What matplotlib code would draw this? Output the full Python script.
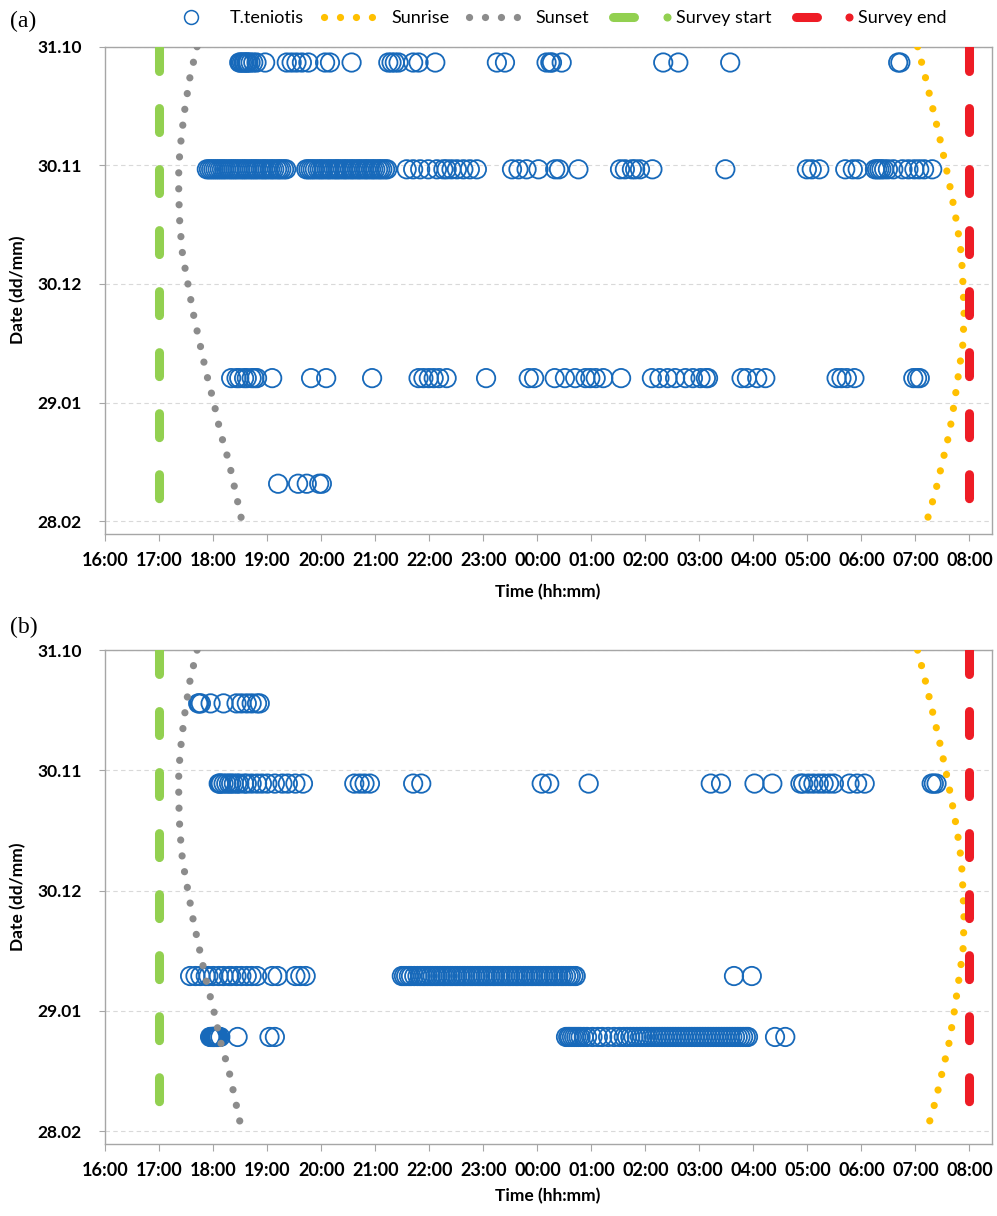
# Bat activity vs. sunset / sunrise, two survey sites
import matplotlib
matplotlib.use('Agg')
import matplotlib.pyplot as plt
from matplotlib.lines import Line2D

plt.rcParams['font.family'] = ['Lato', 'DejaVu Sans']

BLUE = '#1769BA'
GOLD = '#FFC000'
GREY = '#8C8C8C'
GREEN = '#92D050'
RED = '#EE1C25'
FRAME = '#A6A6A6'

# x axis: hours from 16:00 to 08:00 next morning (hours > 24 are after midnight)
hour_ticks = list(range(16, 33))
hour_labels = ['16:00', '17:00', '18:00', '19:00', '20:00', '21:00', '22:00', '23:00',
               '00:00', '01:00', '02:00', '03:00', '04:00', '05:00', '06:00', '07:00', '08:00']

# y axis: days after 31.10
date_ticks = [0, 30, 60, 90, 120]
date_labels = ['31.10', '30.11', '30.12', '29.01', '28.02']

# sunset / sunrise
sun_days = [0, 7.5, 15, 22.5, 30, 37.5, 45, 52.5, 60, 67.5, 75, 82.5, 90, 97.5, 105, 112.5, 120]
sunset_hours = [17.70, 17.57, 17.48, 17.41, 17.36, 17.36, 17.38, 17.43, 17.53,
                17.63, 17.75, 17.87, 18.01, 18.13, 18.29, 18.41, 18.53]
sunrise_hours = [31.04, 31.18, 31.31, 31.44, 31.56, 31.67, 31.77, 31.85, 31.88,
                 31.90, 31.88, 31.80, 31.72, 31.63, 31.50, 31.37, 31.21]

survey_start = 17.0
survey_end = 32.0

# panel (a) detections
a_days = [4, 31, 83.8, 110.5]
a1_times = [18.48, 18.50, 18.53, 18.56, 18.58, 18.61, 18.63, 18.65, 18.69, 18.74, 18.80, 18.96,
            19.36, 19.45, 19.54, 19.64, 19.76, 20.07, 20.16, 20.56, 21.24, 21.30, 21.36, 21.43,
            21.70, 21.80, 22.11, 23.25, 23.40, 24.17, 24.24, 24.27, 24.45, 26.33, 26.61, 27.57,
            30.68, 30.72]
a2_times = [17.88, 17.92, 17.96, 18.00, 18.04, 18.08, 18.12, 18.16, 18.20, 18.24, 18.29, 18.33,
            18.37, 18.41, 18.45, 18.50, 18.54, 18.58, 18.62, 18.67, 18.71, 18.75, 18.79, 18.83,
            18.88, 18.92, 18.96, 19.00, 19.05, 19.09, 19.13, 19.18, 19.22, 19.26, 19.31, 19.35,
            19.72, 19.76, 19.80, 19.84, 19.88, 19.93, 19.97, 20.01, 20.05, 20.10, 20.14, 20.18,
            20.23, 20.27, 20.31, 20.35, 20.40, 20.44, 20.48, 20.53, 20.57, 20.61, 20.66, 20.70,
            20.74, 20.79, 20.83, 20.87, 20.92, 20.96, 21.00, 21.05, 21.09, 21.13, 21.18, 21.22,
            21.58, 21.70, 21.83, 21.98, 22.14, 22.26, 22.32, 22.41, 22.51, 22.63, 22.75, 22.88,
            23.53, 23.65, 23.80, 24.02, 24.33, 24.40, 24.76, 25.53, 25.62, 25.75, 25.81, 25.90,
            26.13, 27.48, 28.99, 29.08, 29.22, 29.70, 29.84, 29.93, 30.25, 30.29, 30.33, 30.37,
            30.42, 30.49, 30.59, 30.76, 30.87, 30.98, 31.07, 31.16, 31.31]
a3_times = [18.33, 18.43, 18.48, 18.57, 18.62, 18.71, 18.76, 18.81, 19.09, 19.81, 20.09, 20.94,
            21.80, 21.89, 21.99, 22.08, 22.18, 22.32, 23.05, 23.84, 23.94, 24.32, 24.51, 24.70,
            24.89, 24.98, 25.08, 25.22, 25.55, 26.12, 26.26, 26.41, 26.55, 26.74, 26.88, 27.02,
            27.12, 27.16, 27.78, 27.88, 28.07, 28.22, 29.54, 29.63, 29.73, 29.87, 30.96, 31.03,
            31.08]
a4_times = [19.20, 19.57, 19.73, 19.96, 20.01]

# panel (b) detections
b_days = [13.3, 33.3, 81.3, 96.5]
b1_times = [17.72, 17.74, 17.77, 17.95, 18.19, 18.43, 18.52, 18.62, 18.71, 18.81, 18.86]
b2_times = [18.10, 18.12, 18.14, 18.19, 18.24, 18.29, 18.33, 18.38, 18.44, 18.48, 18.57, 18.62,
            18.71, 18.81, 18.90, 19.00, 19.14, 19.28, 19.38, 19.52, 19.66, 20.61, 20.71, 20.80,
            20.90, 21.70, 21.85, 24.08, 24.22, 24.95, 27.21, 27.40, 28.02, 28.35, 28.87, 28.92,
            29.02, 29.11, 29.21, 29.30, 29.40, 29.49, 29.78, 29.92, 30.06, 31.30, 31.34, 31.39]
b3_times = [17.57, 17.67, 17.76, 17.86, 17.91, 18.00, 18.10, 18.19, 18.29, 18.33, 18.43, 18.52,
            18.62, 18.71, 18.81, 19.09, 19.19, 19.52, 19.61, 19.71,
            21.49, 21.53, 21.57, 21.62, 21.66, 21.72, 21.78, 21.83, 21.88, 21.92, 21.97, 22.02,
            22.06, 22.11, 22.15, 22.20, 22.25, 22.29, 22.34, 22.39, 22.43, 22.48, 22.52, 22.57,
            22.62, 22.66, 22.71, 22.76, 22.80, 22.85, 22.90, 22.94, 22.99, 23.04, 23.08, 23.13,
            23.18, 23.22, 23.27, 23.32, 23.36, 23.41, 23.46, 23.50, 23.55, 23.60, 23.64, 23.69,
            23.74, 23.78, 23.83, 23.88, 23.92, 23.97, 24.02, 24.06, 24.11, 24.16, 24.20, 24.25,
            24.30, 24.34, 24.39, 24.44, 24.48, 24.53, 24.58, 24.62, 24.67, 24.71,
            27.64, 27.97]
b4_times = [17.94, 17.96, 17.98, 17.99, 18.00, 18.01, 18.02, 18.03, 18.05, 18.06, 18.08, 18.10,
            18.13, 18.45, 19.04, 19.14,
            24.53, 24.57, 24.60, 24.64, 24.68, 24.72, 24.76, 24.80, 24.86, 24.92, 25.02, 25.12,
            25.20, 25.31, 25.42, 25.52, 25.60, 25.66, 25.72, 25.78, 25.84, 25.90, 25.95, 26.00,
            26.05, 26.11, 26.16, 26.21, 26.26, 26.31, 26.36, 26.41, 26.46, 26.51, 26.56, 26.61,
            26.66, 26.71, 26.76, 26.81, 26.86, 26.91, 26.96, 27.01, 27.06, 27.11, 27.16, 27.21,
            27.26, 27.31, 27.36, 27.41, 27.46, 27.51, 27.56, 27.61, 27.66, 27.71, 27.76, 27.81,
            27.86, 27.90, 28.40, 28.59]

DOTS = (0, (0.01, 2.2))
DASHES = (0, (2.66, 4.1))


class SurveyHandler:
    # thick bar, gap, then a small dot right before the text (like the original legend)
    def legend_artist(self, legend, orig_handle, fontsize, handlebox):
        color = orig_handle[0].get_color()
        x0, y0 = handlebox.xdescent, handlebox.ydescent
        w, h = handlebox.width, handlebox.height
        tr = handlebox.get_transform()
        bar = Line2D([x0 + 3, x0 + 0.45 * w], [y0 + h / 2] * 2, color=color, lw=6.5,
                     solid_capstyle='round', transform=tr)
        dot = Line2D([x0 + w + 1], [y0 + h / 2], ls='None', marker='o', markersize=4.8,
                     color=color, transform=tr)
        handlebox.add_artist(bar)
        handlebox.add_artist(dot)
        return bar


def draw_panel(ax, days, rows):
    for d, times in zip(days, rows):
        ax.scatter(times, [d] * len(times), s=175, facecolors='none', edgecolors=BLUE,
                   linewidths=1.3, zorder=2)
    ax.plot(sunrise_hours, sun_days, color=GOLD, lw=5.2, ls=DOTS, dash_capstyle='round', zorder=3)
    ax.plot(sunset_hours, sun_days, color=GREY, lw=5.2, ls=DOTS, dash_capstyle='round', zorder=3)
    ax.plot([survey_start, survey_start], [0, 120], color=GREEN, lw=6.5, ls=DASHES,
            dash_capstyle='round', zorder=3)
    ax.plot([survey_end, survey_end], [0, 120], color=RED, lw=6.5, ls=DASHES,
            dash_capstyle='round', zorder=3)

    ax.set_xlim(16, 32.41)
    ax.set_ylim(123.2, 0)
    ax.set_xticks(hour_ticks)
    ax.set_xticklabels(hour_labels, fontweight='bold', fontsize=13)
    ax.set_yticks(date_ticks)
    ax.set_yticklabels(date_labels, fontweight='bold', fontsize=12.5)
    ax.yaxis.grid(True, color='#D9D9D9', ls=(0, (4, 3)), lw=0.8)
    ax.set_axisbelow(True)
    for sp in ax.spines.values():
        sp.set_color(FRAME)
        sp.set_linewidth(1.0)
    ax.tick_params(axis='y', length=4, pad=13, color=FRAME)
    ax.tick_params(axis='x', length=5, pad=8, color=FRAME)


fig = plt.figure(figsize=(9.97, 12.16), dpi=100, facecolor='white')
ax_a = fig.add_axes([0.1056, 0.5609, 0.889, 0.4007])
ax_b = fig.add_axes([0.1056, 0.0592, 0.889, 0.4062])

draw_panel(ax_a, a_days, [a1_times, a2_times, a3_times, a4_times])
draw_panel(ax_b, b_days, [b1_times, b2_times, b3_times, b4_times])

fig.text(10 / 997, 1 - 21 / 1216, '(a)', family='Liberation Serif', fontsize=17, va='center')
fig.text(10 / 997, 1 - 627 / 1216, '(b)', family='Liberation Serif', fontsize=17, va='center')

fig.text(548 / 997, 1 - 592 / 1216, 'Time (hh:mm)', ha='center', va='center',
         fontweight='bold', fontsize=12.5)
fig.text(548 / 997, 1 - 1196 / 1216, 'Time (hh:mm)', ha='center', va='center',
         fontweight='bold', fontsize=12.5)
fig.text(18 / 997, 1 - 290 / 1216, 'Date (dd/mm)', rotation=90, ha='center', va='center',
         fontweight='bold', fontsize=12.5)
fig.text(18 / 997, 1 - 897 / 1216, 'Date (dd/mm)', rotation=90, ha='center', va='center',
         fontweight='bold', fontsize=12.5)

handles = [
    Line2D([], [], ls='None', marker='o', markersize=10, markerfacecolor='none',
           markeredgecolor=BLUE, markeredgewidth=1.1),
    Line2D([], [], color=GOLD, lw=5.2, ls=DOTS, dash_capstyle='round'),
    Line2D([], [], color=GREY, lw=5.2, ls=DOTS, dash_capstyle='round'),
    (Line2D([], [], color=GREEN), ),
    (Line2D([], [], color=RED), ),
]
labels = ['T.teniotis', 'Sunrise', 'Sunset', 'Survey start', 'Survey end']
fig.legend(handles, labels, loc='center', bbox_to_anchor=(555 / 997, 1 - 18 / 1216), ncol=5,
           frameon=False, fontsize=13, handlelength=3.1, handletextpad=0.6, columnspacing=1.1,
           numpoints=1, handler_map={tuple: SurveyHandler()})

fig.savefig('out.png', dpi=100, facecolor='white')
